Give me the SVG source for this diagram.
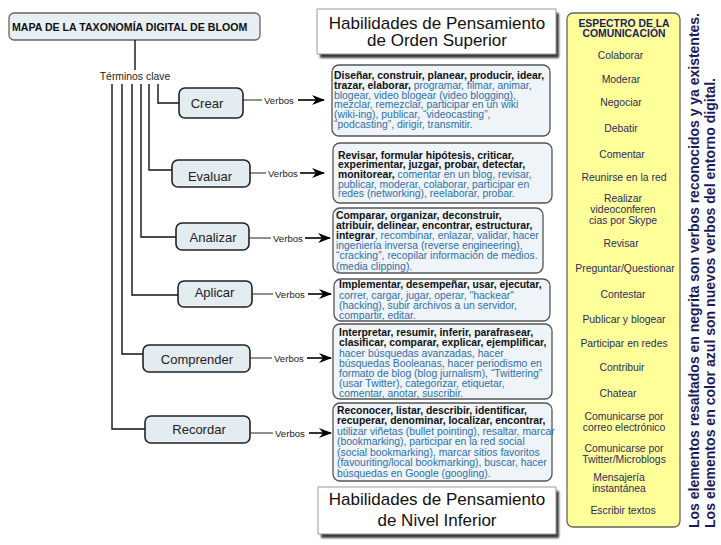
<svg xmlns="http://www.w3.org/2000/svg" width="721" height="545" viewBox="0 0 721 545">
<defs>
<style>
text{font-family:"Liberation Sans",Arial,Helvetica,sans-serif}
.tree{fill:none;stroke:#111;stroke-width:1.4}
.node rect{fill:#e3ecf0;stroke:#222;stroke-width:1.6}
.node text{font-size:13px;fill:#222;text-anchor:middle}
.vbox rect{fill:#eef4f7;stroke:#555;stroke-width:1.3}
.vbox text{font-size:10.4px;fill:#2e70ab}
.k{font-weight:bold;fill:#111}
.lbl{font-size:9.6px;fill:#222}
.arr{fill:none;stroke:#000;stroke-width:1.6;marker-end:url(#ah)}
.ln{fill:none;stroke:#222;stroke-width:1}
.ttl .f{fill:#fff;stroke:#999;stroke-width:1}
.ttl .s{fill:#3a3a3a;filter:url(#sh)}
.ttl text{font-size:17px;fill:#111;text-anchor:middle}
.sp text{font-size:10.4px;fill:#2a2a5c;text-anchor:middle}
.sp .h{font-size:10.4px;font-weight:bold;fill:#1a1a66}
.side{font-size:14px;font-weight:bold;fill:#1b1b5c}
</style>
<marker id="ah" viewBox="0 0 13 10" refX="12" refY="5" markerWidth="13" markerHeight="10" markerUnits="userSpaceOnUse" orient="auto"><path d="M0,0 L13,5 L0,10 L4,5 Z" fill="#000"/></marker>
<filter id="sh" x="-5%" y="-10%" width="115%" height="130%"><feGaussianBlur stdDeviation="1.2"/></filter>
</defs>
<rect width="721" height="545" fill="#fff"/>

<g id="root">
<rect x="9" y="13" width="251" height="27" rx="5" fill="#e8eff2" stroke="#666" stroke-width="1.3"/>
<text x="12" y="30.5" font-size="10.6" font-weight="bold" fill="#111">MAPA DE LA TAXONOMÍA DIGITAL DE BLOOM</text>
</g>

<g id="terminos">
<text x="135" y="80" font-size="10.4" fill="#222" text-anchor="middle">Términos clave</text>
</g>

<g id="connectors">
<path class="tree" d="M135,40 V70"/>
<path class="tree" d="M158,84 V103 H179"/>
<path class="tree" d="M149,84 V170 H172"/>
<path class="tree" d="M141,84 V237 H176"/>
<path class="tree" d="M132,84 V295 H178"/>
<path class="tree" d="M122,84 V354 H143"/>
<path class="tree" d="M112,84 V429 H145"/>

<path class="ln" d="M243,100 H262"/><text class="lbl" x="264" y="103.5">Verbos</text><path class="arr" d="M298,100 H324"/>
<path class="ln" d="M250,173 H266"/><text class="lbl" x="268" y="176.5">Verbos</text><path class="arr" d="M300,173 H324"/>
<path class="ln" d="M249,238 H271"/><text class="lbl" x="273" y="241.5">Verbos</text><path class="arr" d="M305,238 H330"/>
<path class="ln" d="M252,294 H273"/><text class="lbl" x="275" y="297.5">Verbos</text><path class="arr" d="M308,294 H331"/>
<path class="ln" d="M250,358 H272"/><text class="lbl" x="274" y="361.5">Verbos</text><path class="arr" d="M307,358 H331"/>
<path class="ln" d="M250,433 H273"/><text class="lbl" x="275" y="436.5">Verbos</text><path class="arr" d="M309,433 H331"/>
</g>

<g id="crear" class="node"><rect x="179" y="88" width="64" height="30" rx="6"/><text x="207" y="107.5">Crear</text></g>
<g id="evaluar" class="node"><rect x="172" y="160" width="78" height="27" rx="6"/><text x="210" y="180.5">Evaluar</text></g>
<g id="analizar" class="node"><rect x="176" y="223" width="73" height="27" rx="6"/><text x="213" y="241.5">Analizar</text></g>
<g id="aplicar" class="node"><rect x="178" y="281" width="74" height="26" rx="6"/><text x="214.5" y="297">Aplicar</text></g>
<g id="comprender" class="node"><rect x="143" y="345" width="107" height="27" rx="6"/><text x="197" y="364">Comprender</text></g>
<g id="recordar" class="node"><rect x="145" y="416" width="105" height="27" rx="6"/><text x="199" y="433.5">Recordar</text></g>

<g id="v-crear" class="vbox">
<rect x="332" y="65" width="218" height="71" rx="7"/>
<text x="334" y="79.3"><tspan class="k">Diseñar, construir, planear, producir, idear,</tspan></text>
<text x="334" y="89"><tspan class="k">trazar, elaborar,</tspan> programar, filmar, animar,</text>
<text x="334" y="98.7">blogear, video blogear (video blogging),</text>
<text x="334" y="108.4">mezclar, remezclar, participar en un wiki</text>
<text x="334" y="118">(wiki-ing), publicar, “videocasting”,</text>
<text x="334" y="127.7">“podcasting”, dirigir, transmitir.</text>
</g>

<g id="v-evaluar" class="vbox">
<rect x="333" y="143" width="219" height="60" rx="7"/>
<text x="338" y="158.7"><tspan class="k">Revisar, formular hipótesis, criticar,</tspan></text>
<text x="338" y="168.3"><tspan class="k">experimentar, juzgar, probar, detectar,</tspan></text>
<text x="338" y="177.9"><tspan class="k">monitorear,</tspan> comentar en un blog, revisar,</text>
<text x="338" y="187.5">publicar, moderar, colaborar, participar en</text>
<text x="338" y="197.1">redes (networking), reelaborar, probar.</text>
</g>

<g id="v-analizar" class="vbox">
<rect x="333" y="208" width="210" height="65" rx="7"/>
<text x="336" y="218.5"><tspan class="k">Comparar, organizar, deconstruir,</tspan></text>
<text x="336" y="228.7"><tspan class="k">atribuir, delinear, encontrar, estructurar,</tspan></text>
<text x="336" y="238.9"><tspan class="k">integrar</tspan>, recombinar, enlazar, validar, hacer</text>
<text x="336" y="249.1">ingeniería inversa (reverse engineering),</text>
<text x="336" y="259.3">“cracking”, recopilar información de medios.</text>
<text x="336" y="269.5">(media clipping).</text>
</g>

<g id="v-aplicar" class="vbox">
<rect x="334" y="279" width="216" height="42" rx="7"/>
<text x="339" y="288"><tspan class="k">Implementar, desempeñar, usar, ejecutar,</tspan></text>
<text x="339" y="298.5">correr, cargar, jugar, operar, "hackear"</text>
<text x="339" y="309">(hacking), subir archivos a un servidor,</text>
<text x="339" y="319">compartir, editar.</text>
</g>

<g id="v-comprender" class="vbox">
<rect x="333" y="324" width="219" height="75" rx="7"/>
<text x="339" y="336.3"><tspan class="k">Interpretar, resumir, inferir, parafrasear,</tspan></text>
<text x="339" y="346.4"><tspan class="k">clasificar, comparar, explicar, ejemplificar,</tspan></text>
<text x="339" y="356.5">hacer búsquedas avanzadas, hacer</text>
<text x="339" y="366.6">búsquedas Booleanas, hacer periodismo en</text>
<text x="339" y="376.7">formato de blog (blog jurnalism), “Twittering”</text>
<text x="339" y="386.8">(usar Twitter), categorizar, etiquetar,</text>
<text x="339" y="396.9">comentar, anotar, suscribir.</text>
</g>

<g id="v-recordar" class="vbox">
<rect x="333" y="403" width="219" height="78" rx="7"/>
<text x="337" y="413.7"><tspan class="k">Reconocer, listar, describir, identificar,</tspan></text>
<text x="337" y="424.2"><tspan class="k">recuperar, denominar, localizar, encontrar,</tspan></text>
<text x="337" y="434.7">utilizar viñetas (bullet pointing), resaltar, marcar</text>
<text x="337" y="445.2">(bookmarking), participar en la red social</text>
<text x="337" y="455.7">(social bookmarking), marcar sitios favoritos</text>
<text x="337" y="466.2">(favouriting/local bookmarking), buscar, hacer</text>
<text x="337" y="476.7">búsquedas en Google (googling).</text>
</g>

<g id="titulo-superior" class="ttl">
<rect class="s" x="320" y="13" width="239" height="45"/>
<rect class="f" x="317" y="9" width="239" height="45"/>
<text x="437" y="28.5">Habilidades de Pensamiento</text>
<text x="437" y="46">de Orden Superior</text>
</g>

<g id="titulo-inferior" class="ttl">
<rect class="s" x="321" y="491" width="238" height="47"/>
<rect class="f" x="318" y="487" width="238" height="47"/>
<text x="437" y="505">Habilidades de Pensamiento</text>
<text x="437" y="526">de Nivel Inferior</text>
</g>

<g id="espectro" class="sp">
<rect x="567" y="13" width="113" height="514" rx="6" fill="#ffff99" stroke="#666" stroke-width="1.3"/>
<text class="h" x="624" y="27.3">ESPECTRO DE LA</text>
<text class="h" x="624" y="37.3">COMUNICACIÓN</text>
<text x="620.5" y="59">Colaborar</text>
<text x="621" y="83">Moderar</text>
<text x="621" y="105.7">Negociar</text>
<text x="621" y="131.7">Debatir</text>
<text x="622" y="157.7">Comentar</text>
<text x="624" y="180.7">Reunirse en la red</text>
<text x="623" y="201.5">Realizar</text>
<text x="623" y="212.5">videoconferen</text>
<text x="623" y="223.5">cias por Skype</text>
<text x="621" y="246.7">Revisar</text>
<text x="625" y="271.7">Preguntar/Questionar</text>
<text x="623" y="297.7">Contestar</text>
<text x="624" y="322.7">Publicar y blogear</text>
<text x="624" y="346.7">Participar en redes</text>
<text x="622" y="370.7">Contribuir</text>
<text x="618" y="396.7">Chatear</text>
<text x="624" y="419.5">Comunicarse por</text>
<text x="624" y="430.5">correo electrónico</text>
<text x="624" y="452">Comunicarse por</text>
<text x="624" y="463">Twitter/Microblogs</text>
<text x="619" y="481">Mensajería</text>
<text x="619" y="492">instantánea</text>
<text x="623" y="513.7">Escribir textos</text>
</g>

<g id="nota">
<text class="side" transform="translate(699,528) rotate(-90)" textLength="515" lengthAdjust="spacingAndGlyphs">Los elementos resaltados en negrita son verbos reconocidos y ya existentes.</text>
<text class="side" transform="translate(715,528) rotate(-90)" textLength="450" lengthAdjust="spacingAndGlyphs">Los elementos en color azul son nuevos verbos del entorno digital.</text>
</g>
</svg>
